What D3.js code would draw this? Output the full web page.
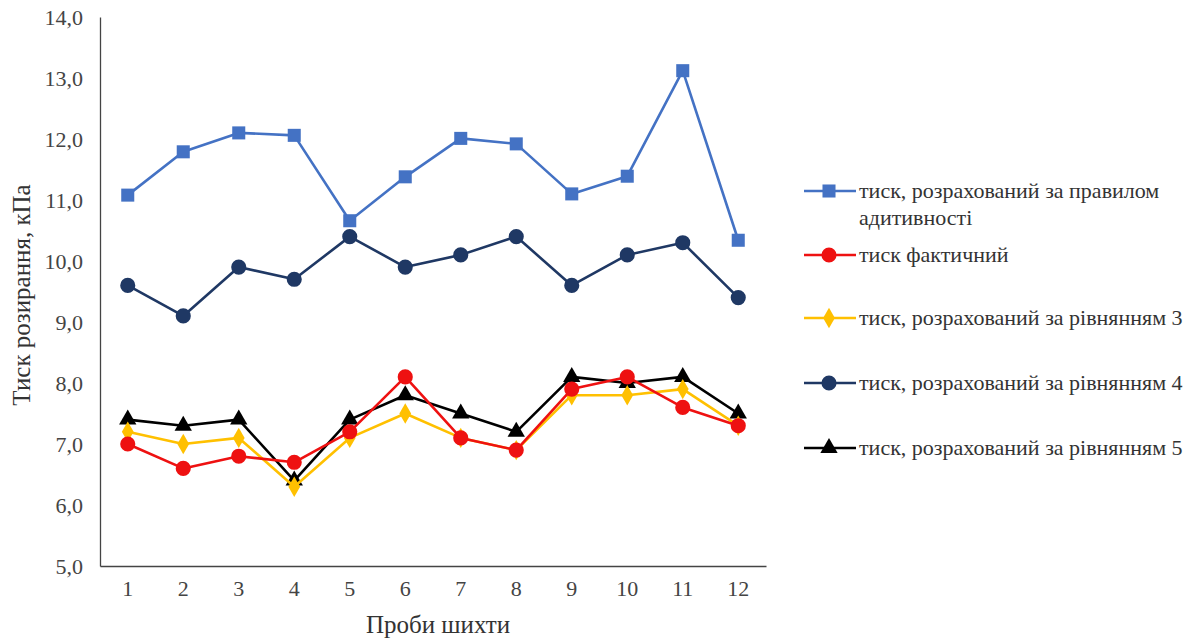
<!DOCTYPE html>
<html><head><meta charset="utf-8">
<script src="https://cdn.jsdelivr.net/npm/d3@7"></script>
<style>body{margin:0;background:#fff;} svg{display:block;}</style>
</head><body>
<svg id="c" width="1198" height="641"></svg>
<script>
const categories = [1,2,3,4,5,6,7,8,9,10,11,12];
const additive = [11.08,11.79,12.1,12.06,10.66,11.38,12.01,11.92,11.1,11.39,13.12,10.34];
const actual   = [7.0,6.6,6.8,6.7,7.2,8.1,7.1,6.9,7.9,8.1,7.6,7.3];
const eq3      = [7.2,7.0,7.1,6.3,7.1,7.5,7.1,6.9,7.8,7.8,7.9,7.3];
const eq4      = [9.6,9.1,9.9,9.7,10.4,9.9,10.1,10.4,9.6,10.1,10.3,9.4];
const eq5      = [7.4,7.3,7.4,6.4,7.4,7.8,7.5,7.2,8.1,8.0,8.1,7.5];
const yTicks = [5,6,7,8,9,10,11,12,13,14];
const seriesNames = [
  ["тиск, розрахований за правилом","адитивності"],
  ["тиск фактичний"],
  ["тиск, розрахований за рівнянням 3"],
  ["тиск, розрахований за рівнянням 4"],
  ["тиск, розрахований за рівнянням 5"]
];
const series = [
  {name: seriesNames[0], values: additive, color: "#4472C4", sym: d3.symbolSquare, size: 170},
  {name: seriesNames[1], values: actual, color: "#EE1111", sym: d3.symbolCircle, size: 180},
  {name: seriesNames[2], values: eq3, color: "#FFC000", sym: d3.symbolDiamond, size: 120},
  {name: seriesNames[3], values: eq4, color: "#1F3864", sym: d3.symbolCircle, size: 180},
  {name: seriesNames[4], values: eq5, color: "#000000", sym: d3.symbolTriangle, size: 130}
];
const drawOrder = [0,3,4,2,1];
const FONT = '"Liberation Serif", "Times New Roman", serif';

const svg = d3.select("#c");
const x = d3.scaleBand().domain(categories).range([100, 766]);
const y = d3.scaleLinear().domain([5,14]).range([566, 17]);

const yAxis = svg.append("g").attr("transform","translate(100,0)")
  .call(d3.axisLeft(y).tickValues(yTicks).tickSize(0).tickPadding(17).tickFormat(d=>d3.format(".1f")(d).replace(".",",")));
yAxis.select(".domain").attr("stroke","#444").attr("stroke-width",1.3);
yAxis.selectAll("text").style("font-family",FONT).style("font-size","22px").attr("fill","#444");

const xAxis = svg.append("g").attr("transform","translate(0,566)")
  .call(d3.axisBottom(x).tickSize(0).tickPadding(14));
xAxis.select(".domain").attr("stroke","#444").attr("stroke-width",1.3);
xAxis.selectAll("text").style("font-family",FONT).style("font-size","22px").attr("fill","#444");

svg.append("text").attr("transform","translate(30,295) rotate(-90)")
  .attr("text-anchor","middle").style("font-family",FONT).style("font-size","25px").attr("fill","#333")
  .text("Тиск розирання, кПа");
svg.append("text").attr("x",438).attr("y",633)
  .attr("text-anchor","middle").style("font-family",FONT).style("font-size","25px").attr("fill","#333")
  .text("Проби шихти");

const line = d3.line().x((d,i)=>x(categories[i])+x.bandwidth()/2).y(d=>y(d));
drawOrder.forEach(k=>{
  const s = series[k];
  const g = svg.append("g");
  g.append("path").datum(s.values).attr("d",line).attr("fill","none")
    .attr("stroke",s.color).attr("stroke-width",2.6).attr("stroke-linejoin","round");
  g.selectAll("path.m").data(s.values).enter().append("path").attr("class","m")
    .attr("d",d3.symbol().type(s.sym).size(s.size))
    .attr("transform",(d,i)=>`translate(${x(categories[i])+x.bandwidth()/2},${y(d)})`)
    .attr("fill",s.color);
});

const legY = [191,255,318,383,448];
series.forEach((s,k)=>{
  const g = svg.append("g").attr("transform",`translate(804,${legY[k]})`);
  g.append("line").attr("x1",0).attr("x2",52).attr("y1",0).attr("y2",0)
    .attr("stroke",s.color).attr("stroke-width",2.6);
  g.append("path").attr("d",d3.symbol().type(s.sym).size(s.size)).attr("transform","translate(25,0)").attr("fill",s.color);
  s.name.forEach((t,j)=>{
    g.append("text").attr("x",55).attr("y",7+j*27)
      .style("font-family",FONT).style("font-size","22px").attr("fill","#333").text(t);
  });
});
</script>
</body></html>
